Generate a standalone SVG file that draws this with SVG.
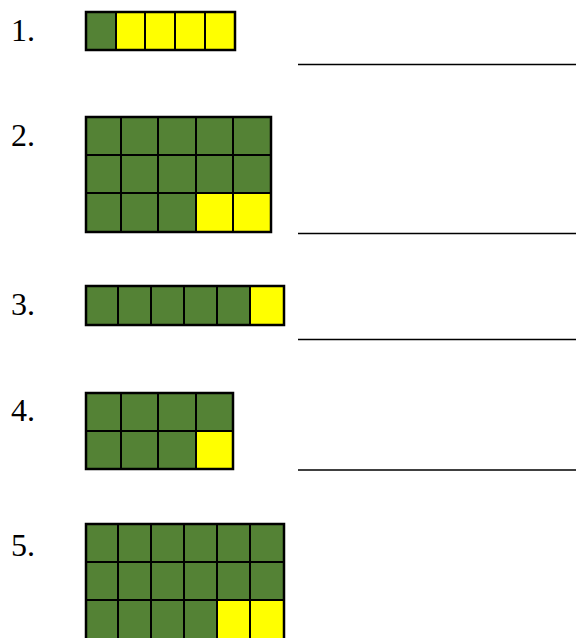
<svg xmlns="http://www.w3.org/2000/svg" width="576" height="638" viewBox="0 0 576 638">
<style>
.g{fill:#548235;stroke:#000;stroke-width:2}
.y{fill:#ffff00;stroke:#000;stroke-width:2}
.o{fill:none;stroke:#000;stroke-width:2.5}
.l{stroke:#000;stroke-width:1.3}
text{font-family:"Liberation Serif","Times New Roman",serif;font-size:32px;fill:#000}
</style>
<rect width="576" height="638" fill="#fff"/>
<g id="item1">
<text x="11" y="41">1.</text>
<rect class="g" x="86" y="12" width="30" height="38"/>
<rect class="y" x="116" y="12" width="29" height="38"/>
<rect class="y" x="145" y="12" width="30" height="38"/>
<rect class="y" x="175" y="12" width="30" height="38"/>
<rect class="y" x="205" y="12" width="30" height="38"/>
<rect class="o" x="86" y="12" width="149" height="38"/>
<line class="l" x1="298" y1="64.5" x2="576" y2="64.5"/>
</g>
<g id="item2">
<text x="11" y="146">2.</text>
<g>
<rect class="g" x="86" y="117" width="35" height="38"/>
<rect class="g" x="121" y="117" width="37" height="38"/>
<rect class="g" x="158" y="117" width="38" height="38"/>
<rect class="g" x="196" y="117" width="37" height="38"/>
<rect class="g" x="233" y="117" width="38" height="38"/>
<rect class="g" x="86" y="155" width="35" height="38"/>
<rect class="g" x="121" y="155" width="37" height="38"/>
<rect class="g" x="158" y="155" width="38" height="38"/>
<rect class="g" x="196" y="155" width="37" height="38"/>
<rect class="g" x="233" y="155" width="38" height="38"/>
<rect class="g" x="86" y="193" width="35" height="39"/>
<rect class="g" x="121" y="193" width="37" height="39"/>
<rect class="g" x="158" y="193" width="38" height="39"/>
<rect class="y" x="196" y="193" width="37" height="39"/>
<rect class="y" x="233" y="193" width="38" height="39"/>
</g>
<rect class="o" x="86" y="117" width="185" height="115"/>
<line class="l" x1="298" y1="233.5" x2="576" y2="233.5"/>
</g>
<g id="item3">
<text x="11" y="315">3.</text>
<rect class="g" x="86" y="286" width="32" height="39"/>
<rect class="g" x="118" y="286" width="33" height="39"/>
<rect class="g" x="151" y="286" width="33" height="39"/>
<rect class="g" x="184" y="286" width="33" height="39"/>
<rect class="g" x="217" y="286" width="33" height="39"/>
<rect class="y" x="250" y="286" width="34" height="39"/>
<rect class="o" x="86" y="286" width="198" height="39"/>
<line class="l" x1="298" y1="339.5" x2="576" y2="339.5"/>
</g>
<g id="item4">
<text x="11" y="421">4.</text>
<rect class="g" x="86" y="393" width="35" height="38"/>
<rect class="g" x="121" y="393" width="37" height="38"/>
<rect class="g" x="158" y="393" width="38" height="38"/>
<rect class="g" x="196" y="393" width="37" height="38"/>
<rect class="g" x="86" y="431" width="35" height="38"/>
<rect class="g" x="121" y="431" width="37" height="38"/>
<rect class="g" x="158" y="431" width="38" height="38"/>
<rect class="y" x="196" y="431" width="37" height="38"/>
<rect class="o" x="86" y="393" width="147" height="76"/>
<line class="l" x1="298" y1="470" x2="576" y2="470"/>
</g>
<g id="item5">
<text x="11" y="556">5.</text>
<rect class="g" x="86" y="524" width="32" height="38"/>
<rect class="g" x="118" y="524" width="33" height="38"/>
<rect class="g" x="151" y="524" width="33" height="38"/>
<rect class="g" x="184" y="524" width="33" height="38"/>
<rect class="g" x="217" y="524" width="33" height="38"/>
<rect class="g" x="250" y="524" width="34" height="38"/>
<rect class="g" x="86" y="562" width="32" height="38"/>
<rect class="g" x="118" y="562" width="33" height="38"/>
<rect class="g" x="151" y="562" width="33" height="38"/>
<rect class="g" x="184" y="562" width="33" height="38"/>
<rect class="g" x="217" y="562" width="33" height="38"/>
<rect class="g" x="250" y="562" width="34" height="38"/>
<rect class="g" x="86" y="600" width="32" height="40"/>
<rect class="g" x="118" y="600" width="33" height="40"/>
<rect class="g" x="151" y="600" width="33" height="40"/>
<rect class="g" x="184" y="600" width="33" height="40"/>
<rect class="y" x="217" y="600" width="33" height="40"/>
<rect class="y" x="250" y="600" width="34" height="40"/>
<rect class="o" x="86" y="524" width="198" height="116"/>
</g>
</svg>
